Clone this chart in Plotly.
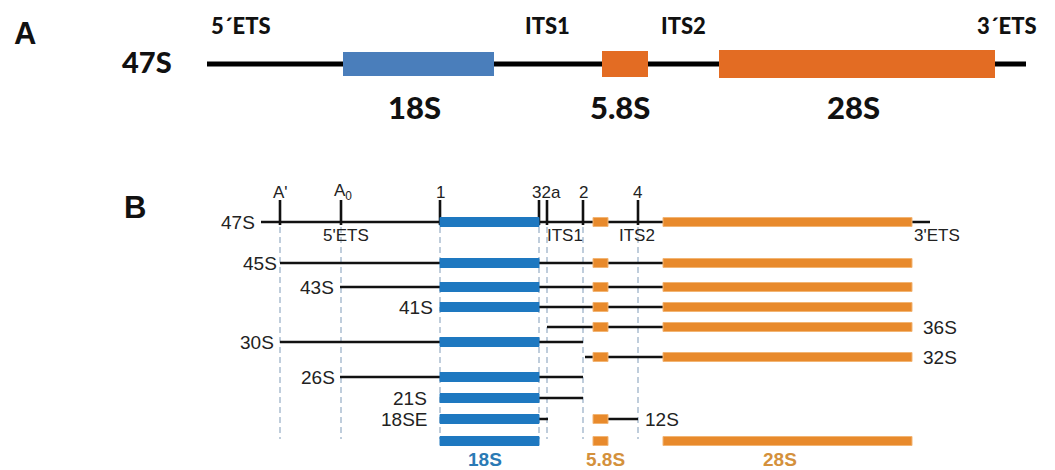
import plotly.graph_objects as go

# ---------------- Panel A data (schematic positions along the transcript) ----------------
A_TRANSCRIPT = [207, 1026]
A_ELEMENTS = ["18S", "5.8S", "28S"]
A_EL_START = [343, 602, 719]
A_EL_END = [494, 648, 995]
A_ROW_Y = 64
A_REGION_LABELS = ["5´ETS", "ITS1", "ITS2", "3´ETS"]
A_REGION_X = [241, 547, 683, 1007]

# ---------------- Panel B data ----------------
SITE_NAMES = ["A'", "A0", "1", "3", "2a", "2", "4"]
SITE_X = [280, 341, 440, 539, 547, 583, 638]
SITE_LABELS = ["A'", "A<sub>0</sub>", "1", "32a", "2", "4"]
SITE_LABEL_X = [280, 343, 440, 546, 583, 637]

B_ELEMENTS = ["18S", "5.8S", "28S"]
B_EL_START = [440, 593, 663]
B_EL_END = [539, 608, 912]

B_REGION_LABELS = ["5'ETS", "ITS1", "ITS2", "3'ETS"]
B_REGION_X = [346, 565, 637, 937]

ROW_NAMES = ["47S", "45S", "43S", "41S", "36S", "30S", "32S", "26S", "21S", "18SE", "12S", "mature"]
ROW_Y = [222, 263, 287, 307, 327, 342, 357, 377, 398, 419, 419, 441]
ROW_LINE_START = [261, 280, 340, 440, 547, 280, 585, 340, 440, 440, 593, None]
ROW_LINE_END = [930, 912, 912, 912, 912, 583, 912, 583, 583, 548, 638, None]
ROW_BLOCKS = [
    ["18S", "5.8S", "28S"],
    ["18S", "5.8S", "28S"],
    ["18S", "5.8S", "28S"],
    ["18S", "5.8S", "28S"],
    ["5.8S", "28S"],
    ["18S"],
    ["5.8S", "28S"],
    ["18S"],
    ["18S"],
    ["18S"],
    ["5.8S"],
    ["18S", "5.8S", "28S"],
]
ROW_LABEL_SIDE = ["left", "left", "left", "left", "right", "left", "right", "left", "left", "left", "right", "none"]
ROW_LABEL_X = [257, 279, 336, 435, 921, 276, 921, 337, 429, 429, 643, None]
MATURE_LABEL_X = [485, 605, 780]

# ---------------- styles ----------------
A_BLUE = "#4a7ebb"
A_ORANGE = "#e36c23"
B_BLUE = "#1e78c0"
B_ORANGE = "#e88a2c"
B_ORANGE_EDGE = "#f2b574"
DASH_COLOR = "#9db3c9"
T_BLUE = "#2a7ab5"
T_ORANGE = "#d4913c"
A_HALF = {"18S": 12, "5.8S": 13, "28S": 14}
B_HALF = 4.5

fig = go.Figure()
shapes = []
annotations = []


def ann(text, x, y, size, family, color="#111111", xanchor="center", weight="normal"):
    annotations.append(dict(
        text=text, x=x, y=y, xref="x", yref="y",
        showarrow=False, xanchor=xanchor, yanchor="middle",
        font=dict(size=size, family=family, color=color, weight=weight)))


# ---- Panel A ----
fig.add_trace(go.Scatter(x=A_TRANSCRIPT, y=[A_ROW_Y, A_ROW_Y], mode="lines",
                         line=dict(color="#000000", width=5), hoverinfo="skip"))
for name, s, e in zip(A_ELEMENTS, A_EL_START, A_EL_END):
    col = A_BLUE if name == "18S" else A_ORANGE
    shapes.append(dict(type="rect", xref="x", yref="y", x0=s, x1=e,
                       y0=A_ROW_Y - A_HALF[name], y1=A_ROW_Y + A_HALF[name],
                       fillcolor=col, line=dict(width=0), layer="above"))
    ann(name, (s + e) / 2 - 5 if name == "5.8S" else (s + e) / 2 - 4, 107, 31, "Lato", weight=900)
for lab, x in zip(A_REGION_LABELS, A_REGION_X):
    ann(lab, x, 25, 22, "Lato", weight=900)
ann("47S", 147, 61, 29, "Lato", weight=900)
ann("A", 25, 33, 31, "Liberation Sans", weight="bold")

# ---- Panel B ----
# dashed guide lines at cleavage sites
dx, dy = [], []
for x in SITE_X:
    dx += [x, x, None]
    dy += [227, 439, None]
fig.add_trace(go.Scatter(x=dx, y=dy, mode="lines",
                         line=dict(color=DASH_COLOR, width=1.3, dash="6px,4px"), hoverinfo="skip"))

# cleavage site ticks on 47S
tx, ty = [], []
for x in SITE_X:
    tx += [x, x, None]
    ty += [200, ROW_Y[0] + 3, None]
fig.add_trace(go.Scatter(x=tx, y=ty, mode="lines",
                         line=dict(color="#111111", width=2.6), hoverinfo="skip"))

# spacer lines for each precursor
lx, ly = [], []
for y, s, e in zip(ROW_Y, ROW_LINE_START, ROW_LINE_END):
    if s is None:
        continue
    lx += [s, e, None]
    ly += [y, y, None]
fig.add_trace(go.Scatter(x=lx, y=ly, mode="lines",
                         line=dict(color="#111111", width=2.4), hoverinfo="skip"))

# rRNA blocks
el_idx = {n: i for i, n in enumerate(B_ELEMENTS)}
for y, blocks in zip(ROW_Y, ROW_BLOCKS):
    for b in blocks:
        i = el_idx[b]
        if b == "18S":
            fc, lc = B_BLUE, B_BLUE
        else:
            fc, lc = B_ORANGE, B_ORANGE_EDGE
        shapes.append(dict(type="rect", xref="x", yref="y",
                           x0=B_EL_START[i], x1=B_EL_END[i],
                           y0=y - B_HALF, y1=y + B_HALF,
                           fillcolor=fc, line=dict(width=1, color=lc), layer="above"))

# row labels
for name, y, side, x in zip(ROW_NAMES, ROW_Y, ROW_LABEL_SIDE, ROW_LABEL_X):
    if side == "none":
        continue
    ann(name, x, y, 19, "Liberation Sans", color="#222222",
        xanchor="right" if side == "left" else "left")

# site labels
for lab, x in zip(SITE_LABELS, SITE_LABEL_X):
    ann(lab, x, 192, 17, "Liberation Sans", color="#222222")

# region labels under 47S
for lab, x in zip(B_REGION_LABELS, B_REGION_X):
    ann(lab, x, 235, 17, "Liberation Sans", color="#222222")

# mature rRNA labels
for name, x in zip(B_ELEMENTS, MATURE_LABEL_X):
    ann(name, x, 459, 19, "Liberation Sans", color=T_BLUE if name == "18S" else T_ORANGE, weight="bold")

ann("B", 135, 207, 31, "Liberation Sans", weight="bold")

fig.update_layout(
    width=1055, height=470,
    margin=dict(l=0, r=0, t=0, b=0),
    paper_bgcolor="white", plot_bgcolor="white",
    showlegend=False,
    xaxis=dict(range=[0, 1055], visible=False, fixedrange=True),
    yaxis=dict(range=[470, 0], visible=False, fixedrange=True),
    shapes=shapes, annotations=annotations,
)
fig.write_html("out.html", config={"displayModeBar": False},
               post_script="document.body.style.margin='0';document.body.style.overflow='hidden';")
